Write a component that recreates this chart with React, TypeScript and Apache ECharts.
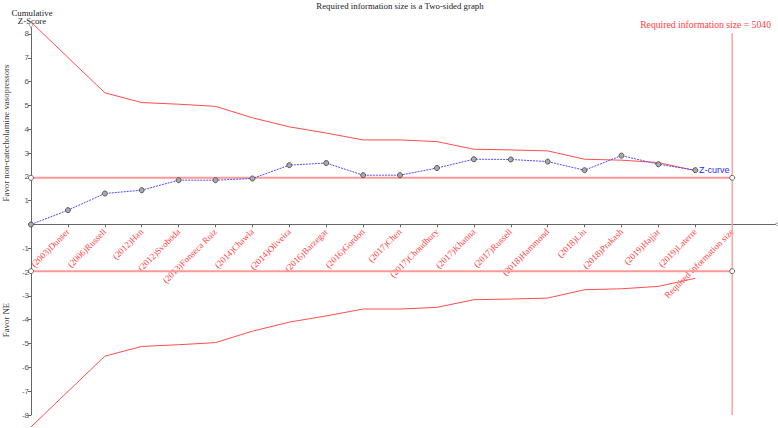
import React, { useEffect, useRef } from "react";
import * as echarts from "echarts";

const xLabels: string[] = [
  "",
  "(2003)Dunser",
  "(2006)Russell",
  "(2012)Han",
  "(2012)Svoboda",
  "(2013)Fonseca Ruiz",
  "(2014)Chawla",
  "(2014)Oliveira",
  "(2016)Barzegar",
  "(2016)Gordon",
  "(2017)Chen",
  "(2017)Choudhury",
  "(2017)Khanna",
  "(2017)Russell",
  "(2018)Hammond",
  "(2018)Liu",
  "(2018)Prakash",
  "(2019)Hajjar",
  "(2019)Laterre",
  "Required information size",
];

const zCurve: number[] = [
  0, 0.6, 1.3, 1.44, 1.86, 1.86, 1.93, 2.49, 2.58, 2.07, 2.07, 2.37, 2.74, 2.73,
  2.64, 2.28, 2.89, 2.53, 2.28,
];

const upperBoundary: (number | null)[] = [
  8.5, null, 5.53, 5.12, 5.05, 4.96, 4.48, 4.1, 3.84, 3.55, 3.55, 3.48, 3.16,
  3.13, 3.09, 2.74, 2.7, 2.6, 2.26,
];

const lowerBoundary: (number | null)[] = upperBoundary.map((v) =>
  v === null ? null : -v
);

const conventional = 1.96;
const risIndex = 19;
const yTicks: number[] = [-8, -7, -6, -5, -4, -3, -2, -1, 0, 1, 2, 3, 4, 5, 6, 7, 8];
const yLabelValues: number[] = [-8, -7, -6, -5, -4, -3, -2, -1, 1, 2, 3, 4, 5, 6, 7, 8];
const xTickValues: number[] = xLabels.map((_, i) => i);
const xLabelValues: number[] = xLabels.map((_, i) => i).filter((i) => i > 0);

const SERIF = "'Liberation Serif', 'DejaVu Serif', serif";
const SANS = "'Liberation Sans', Arial, sans-serif";
const ARROW = "path://M0,0 L5,9 L10,0 L9,0 L5,7 L1,0 Z";

export default function App() {
  const ref = useRef<HTMLDivElement>(null);

  useEffect(() => {
    document.body.style.margin = "0";
    if (!ref.current) return;
    const chart = echarts.init(ref.current, undefined, { renderer: "svg" });

    const pairs = (arr: (number | null)[]) =>
      arr.map((v, i) => [i, v === null ? null : v]);

    const markerStyle = {
      color: "#ffffff",
      borderColor: "#666666",
      borderWidth: 1,
    };

    const X_MAX = 20.16;

    const option: any = {
      animation: false,
      backgroundColor: "#ffffff",
      grid: [
        { left: 31, right: 3, top: 28, bottom: 13, containLabel: false, outerBoundsMode: "none" },
        { left: 31, right: 3, top: 28, bottom: 203.7, containLabel: false, outerBoundsMode: "none" },
      ],
      xAxis: [
        {
          type: "value",
          gridIndex: 0,
          min: 0,
          max: X_MAX,
          interval: 1,
          splitLine: { show: false },
          axisLine: { show: false },
          axisTick: { show: false },
          axisLabel: { show: false },
        },
        {
          type: "value",
          gridIndex: 1,
          position: "bottom",
          min: 0,
          max: X_MAX,
          interval: 1,
          splitLine: { show: false },
          axisLine: {
            show: true,
            onZero: false,
            lineStyle: { color: "#666666", width: 1 },
            symbol: ["none", ARROW],
            symbolSize: [7, 5],
            symbolOffset: [0, 2],
          },
          axisTick: {
            show: true,
            length: 3,
            customValues: xTickValues,
            lineStyle: { color: "#666666" },
          },
          axisLabel: {
            customValues: xLabelValues,
            rotate: 45,
            margin: 6,
            color: "#ff4040",
            fontFamily: SERIF,
            fontSize: 9,
            formatter: (v: number) => xLabels[Math.round(v)] ?? "",
          },
        },
      ],
      yAxis: [
        {
          type: "value",
          gridIndex: 0,
          min: -8,
          max: 8.25,
          interval: 1,
          splitLine: { show: false },
          axisLine: {
            show: true,
            onZero: false,
            lineStyle: { color: "#666666", width: 1 },
            symbol: ["none", ARROW],
            symbolSize: [7, 5],
            symbolOffset: [0, 2],
          },
          axisTick: {
            show: true,
            length: 3,
            customValues: yTicks,
            lineStyle: { color: "#666666" },
          },
          axisLabel: {
            customValues: yLabelValues,
            margin: 2,
            color: "#555555",
            fontFamily: SANS,
            fontSize: 8,
          },
        },
        {
          type: "value",
          gridIndex: 1,
          min: 0,
          max: 1,
          show: false,
        },
      ],
      series: [
        {
          name: "upper",
          type: "line",
          data: pairs(upperBoundary),
          connectNulls: true,
          clip: false,
          showSymbol: false,
          symbol: "none",
          lineStyle: { color: "#ff4d4d", width: 1 },
          z: 3,
        },
        {
          name: "lower",
          type: "line",
          data: pairs(lowerBoundary),
          connectNulls: true,
          clip: false,
          showSymbol: false,
          symbol: "none",
          lineStyle: { color: "#ff4d4d", width: 1 },
          z: 3,
        },
        {
          name: "conv-up",
          type: "line",
          data: [
            [0, conventional],
            [risIndex, conventional],
          ],
          symbol: "circle",
          symbolSize: 5,
          itemStyle: markerStyle,
          lineStyle: { color: "#ff9999", width: 2 },
          z: 2,
        },
        {
          name: "conv-down",
          type: "line",
          data: [
            [0, -conventional],
            [risIndex, -conventional],
          ],
          symbol: "circle",
          symbolSize: 5,
          itemStyle: markerStyle,
          lineStyle: { color: "#ff9999", width: 2 },
          z: 2,
        },
        {
          name: "ris",
          type: "line",
          data: [
            [risIndex, -8],
            [risIndex, 8.03],
          ],
          symbol: "none",
          lineStyle: { color: "#ffa0a0", width: 1.5 },
          z: 2,
        },
        {
          name: "Z-curve",
          type: "line",
          data: pairs(zCurve),
          symbol: "circle",
          symbolSize: 5,
          itemStyle: { color: "#aaaaaa", borderColor: "#555555", borderWidth: 1 },
          lineStyle: { color: "#4d4dff", width: 1, type: [2, 1] },
          z: 5,
        },
      ],
      graphic: [
        {
          type: "text",
          x: 400,
          y: 5.5,
          style: {
            text: "Required information size is a Two-sided graph",
            align: "center",
            verticalAlign: "middle",
            fontFamily: SERIF,
            fontSize: 8.8,
            fill: "#222222",
          },
        },
        {
          type: "text",
          x: 32,
          y: 12.5,
          style: {
            text: "Cumulative",
            align: "center",
            verticalAlign: "middle",
            fontFamily: SERIF,
            fontSize: 8.8,
            fill: "#222222",
          },
        },
        {
          type: "text",
          x: 32,
          y: 21,
          style: {
            text: "Z-Score",
            align: "center",
            verticalAlign: "middle",
            fontFamily: SERIF,
            fontSize: 8.8,
            fill: "#222222",
          },
        },
        {
          type: "text",
          x: 771,
          y: 24.5,
          style: {
            text: "Required information size = 5040",
            align: "right",
            verticalAlign: "middle",
            fontFamily: SERIF,
            fontSize: 9.7,
            fill: "#ff4040",
          },
        },
        {
          type: "text",
          x: 699,
          y: 170,
          style: {
            text: "Z-curve",
            align: "left",
            verticalAlign: "middle",
            fontFamily: SANS,
            fontSize: 9,
            fill: "#2a2aff",
          },
        },
        {
          type: "text",
          x: 6,
          y: 133,
          rotation: Math.PI / 2,
          style: {
            text: "Favor non-catecholamine vasopressors",
            align: "center",
            verticalAlign: "middle",
            fontFamily: SERIF,
            fontSize: 8.8,
            fill: "#333333",
          },
        },
        {
          type: "text",
          x: 6,
          y: 320,
          rotation: Math.PI / 2,
          style: {
            text: "Favor NE",
            align: "center",
            verticalAlign: "middle",
            fontFamily: SERIF,
            fontSize: 8.8,
            fill: "#333333",
          },
        },
      ],
    };

    chart.setOption(option);
    return () => chart.dispose();
  }, []);

  return <div ref={ref} style={{ width: 778, height: 428 }} />;
}
